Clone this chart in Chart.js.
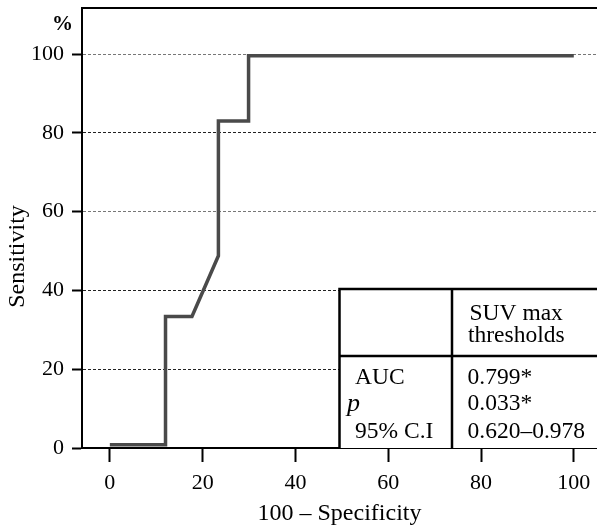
<!DOCTYPE html>
<html>
<head>
<meta charset="utf-8">
<script src="https://cdn.jsdelivr.net/npm/chart.js@4"></script>
<style>
  body { margin: 0; background: #fff; }
  #roc { display: block; }
</style>
</head>
<body>
<canvas id="roc" width="597" height="528"></canvas>
<script>
// ROC curve data (100 - specificity vs sensitivity, %)

const fprPoints = [0, 12, 12, 17.7, 23.4, 23.4, 29.9, 29.9, 100];
const sensPoints = [0.8, 0.8, 33.4, 33.4, 48.8, 83, 83, 99.6, 99.6];

const xTicks = [0, 20, 40, 60, 80, 100];
const yTicks = [0, 20, 40, 60, 80, 100];

const tableHeader = ["SUV max", "thresholds"];
const tableLabels = ["AUC", "p", "95% C.I"];
const tableValues = ["0.799*", "0.033*", "0.620–0.978"];

const serif = "'Liberation Serif', 'DejaVu Serif', serif";

// extra drawing: top border, % sign, y title, stats table
const extras = {
    id: 'extras',
    afterDatasetsDraw(chart) {
        const ctx = chart.ctx;
        const area = chart.chartArea;
        ctx.save();

        ctx.strokeStyle = '#000';
        ctx.lineWidth = 2;
        ctx.beginPath();
        ctx.moveTo(area.left, area.top);
        ctx.lineTo(area.right, area.top);
        ctx.stroke();

        ctx.fillStyle = '#000';
        ctx.font = 'bold 21px ' + serif;
        ctx.textAlign = 'center';
        ctx.textBaseline = 'middle';
        ctx.fillText('%', 62.5, 25);

        ctx.save();
        ctx.translate(18, 256.5);
        ctx.rotate(-Math.PI / 2);
        ctx.font = '24px ' + serif;
        ctx.fillText('Sensitivity', 0, 0);
        ctx.restore();

        // table
        const tl = 339.5, tt = 289, tr = area.right, tb = area.bottom;
        const split = 452, mid = 356;
        ctx.fillStyle = '#fff';
        ctx.fillRect(tl, tt, tr - tl, tb - tt);
        ctx.lineWidth = 2.5;
        ctx.strokeStyle = '#000';
        ctx.beginPath();
        ctx.moveTo(tr, tt); ctx.lineTo(tl, tt); ctx.lineTo(tl, tb);
        ctx.moveTo(tl, mid); ctx.lineTo(tr, mid);
        ctx.moveTo(split, tt); ctx.lineTo(split, tb);
        ctx.stroke();

        ctx.fillStyle = '#000';
        ctx.textAlign = 'left';
        ctx.textBaseline = 'alphabetic';
        ctx.font = '23.5px ' + serif;
        ctx.fillText(tableHeader[0], 469.5, 319.5);
        ctx.fillText(tableHeader[1], 468, 341.5);

        ctx.fillText(tableLabels[0], 355, 383.5);
        ctx.font = 'italic 26px ' + serif;
        ctx.fillText(tableLabels[1], 347, 411);
        ctx.font = '23.5px ' + serif;
        ctx.fillText(tableLabels[2], 355, 438);

        ctx.fillText(tableValues[0], 467.5, 383.5);
        ctx.fillText(tableValues[1], 467.5, 410);
        ctx.fillText(tableValues[2], 467.5, 438);

        ctx.restore();
    }
};

const rocCanvas = document.getElementById("roc");

let rocChart = new Chart(rocCanvas, {
    type: 'line',
    data: {
        datasets: [{
            data: fprPoints.map((x, i) => ({ x: x, y: sensPoints[i] })),
            borderColor: '#4a4a4a',
            borderWidth: 3.5,
            pointRadius: 0,
            fill: false,
            tension: 0
        }]
    },
    options: {
        responsive: false,
        animation: false,
        layout: {
            padding: { top: 8, right: 0, bottom: 0, left: 0 }
        },
        scales: {
            x: {
                type: 'linear',
                min: -6,
                max: 105,
                afterBuildTicks: s => { s.ticks = xTicks.map(v => ({ value: v })); },
                afterFit: s => {
                    s.height = 80;
                    s.paddingLeft = 0;
                    s.paddingRight = 0;
                },
                border: { color: '#000', width: 2 },
                grid: {
                    drawOnChartArea: false,
                    tickLength: 14,
                    tickColor: '#000',
                    tickWidth: 2
                },
                ticks: {
                    color: '#000',
                    padding: 8,
                    maxRotation: 0,
                    font: { family: serif, size: 22 }
                },
                title: {
                    display: true,
                    text: '100 – Specificity',
                    color: '#000',
                    padding: { top: 0, bottom: 0 },
                    font: { family: serif, size: 24 }
                }
            },
            y: {
                min: 0,
                max: 111.7,
                afterBuildTicks: s => { s.ticks = yTicks.map(v => ({ value: v })); },
                afterFit: s => {
                    s.width = 82;
                    s.paddingTop = 0;
                    s.paddingBottom = 0;
                },
                border: { color: '#000', width: 2, dash: [3, 2] },
                grid: {
                    color: c => c.tick.value === 0 ? 'rgba(0,0,0,0)' :
                        (c.tick.value === 100 || c.tick.value === 60 ? '#777' : '#222'),
                    lineWidth: 1,
                    tickLength: 10,
                    tickColor: '#000',
                    tickWidth: 2
                },
                ticks: {
                    color: '#000',
                    padding: 8,
                    font: { family: serif, size: 22 }
                }
            }
        },
        plugins: {
            legend: { display: false },
            tooltip: { enabled: false }
        }
    },
    plugins: [extras]
});
</script>
</body>
</html>
